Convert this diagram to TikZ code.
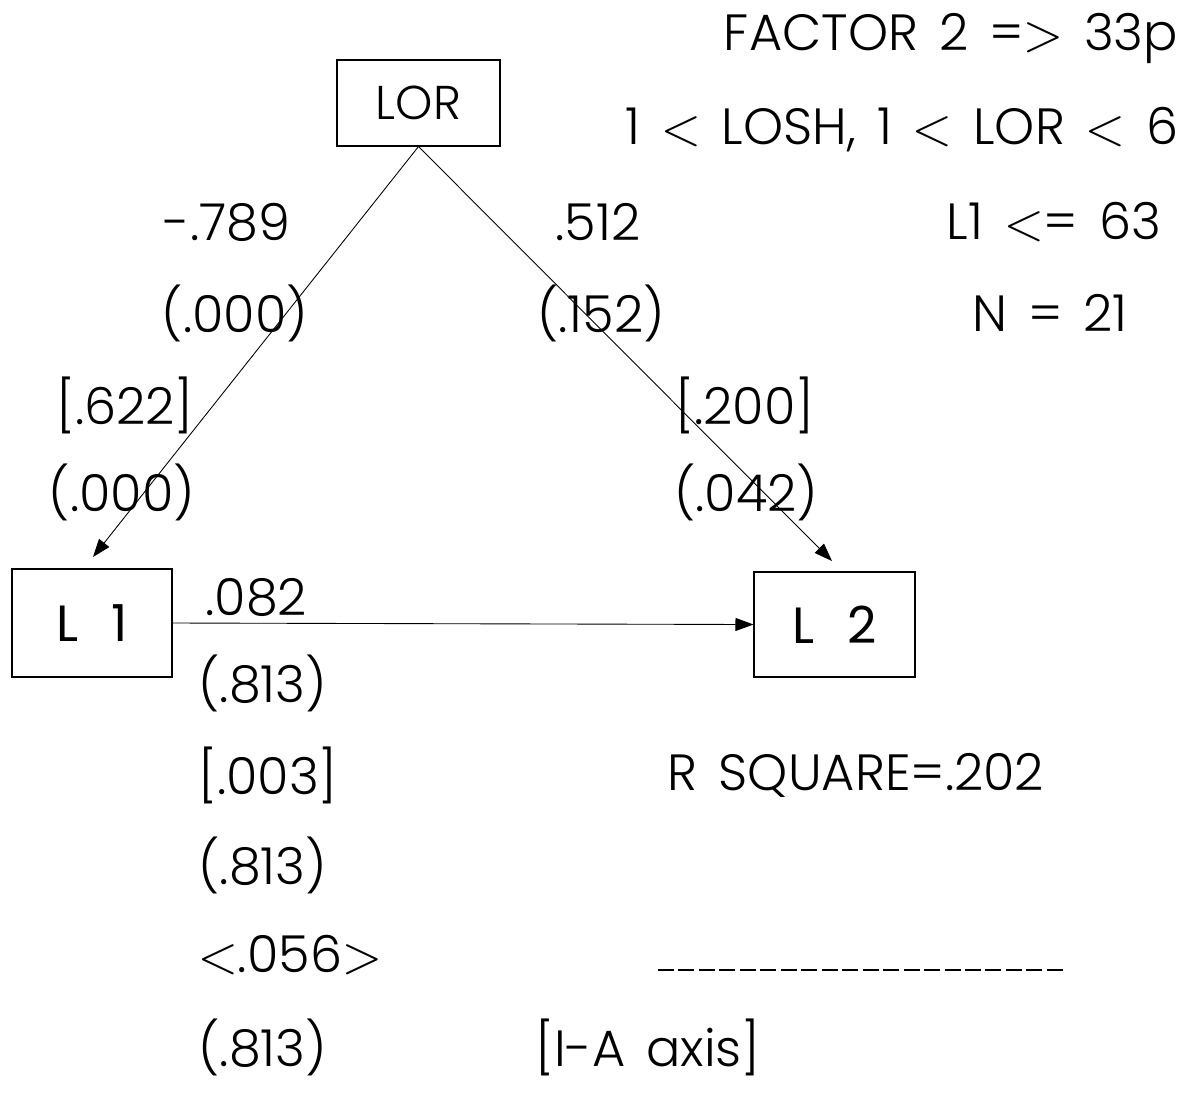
\documentclass[tikz,border=0pt]{standalone}
\usepackage{fontspec}
\usepackage{unicode-math}
\setmainfont{Poppins Light}[Ligatures=NoCommon, WordSpace=1.5]
\newfontfamily\boxfont{Poppins}
\usetikzlibrary{arrows.meta}
\newcommand\ltsym{\ensuremath{<}}
\newcommand\gtsym{\ensuremath{>}}
\begin{document}
\begin{tikzpicture}[x=0.02cm,y=-0.02cm,
  box/.style={draw, line width=0.6pt, inner sep=0pt, font=\boxfont\fontsize{29}{32}\selectfont},
  lab/.style={inner sep=0pt, font=\fontsize{29}{33}\selectfont},
  conn/.style={line width=0.5pt, -{Triangle[length=0.36cm,width=0.26cm]}}]
\useasboundingbox (0,0) rectangle (1189,1093);
\node[box, minimum width=163*0.02cm, minimum height=86*0.02cm, font=\fontsize{27}{30}\selectfont] (lor) at (418.5,103) {LOR};
\node[box, minimum width=160*0.02cm, minimum height=108*0.02cm] (l1) at (92,623) {L\hspace{0.65em}1};
\node[box, minimum width=161*0.02cm, minimum height=105*0.02cm] (l2) at (834.5,624.5) {L\hspace{0.65em}2};
\coordinate (t1) at (93,557);
\coordinate (t2) at (832,561);
\draw[conn] (lor.south) -- (t1);
\draw[conn] (lor.south) -- (t2);
\draw[conn] (l1.east) -- (l2.west);
% top right
\node[lab] (f1) at (951,38) {FACTOR 2 =\gtsym{} 33p};
\node[lab] (f2) at (902,130) {1 \ltsym{} LOSH, 1 \ltsym{} LOR \ltsym{} 6};
\node[lab] (f3) at (1054,222) {L1 \ltsym{}= 63};
\node[lab] (f4) at (1050,313) {N = 21};
% left path
\node[lab] (a1) at (227,222) {-.789};
\node[lab] (a2) at (235,313) {(.000)};
\node[lab] (a3) at (125,405) {[.622]};
\node[lab] (a4) at (122,492) {(.000)};
% right path
\node[lab] (b1) at (598,222) {.512};
\node[lab] (b2) at (601,313) {(.152)};
\node[lab] (b3) at (745,405) {[.200]};
\node[lab] (b4) at (746,492) {(.042)};
% horizontal
\node[lab, anchor=west] (c1) at (205,597) {.082};
\node[lab, anchor=west] (c2) at (198,683) {(.813)};
\node[lab, anchor=west] (c3) at (198,775) {[.003]};
\node[lab, anchor=west] (c4) at (198,865) {(.813)};
\node[lab, anchor=west] (c5) at (198,955) {\ltsym.056\gtsym};
\node[lab, anchor=west] (c6) at (198,1047) {(.813)};
\node[lab] (r1) at (856,775) {R SQUARE=.202};
\coordinate (d1) at (658,970);
\coordinate (d2) at (1063,970);
\draw[line width=0.7pt, dash pattern=on 0.32cm off 0.0894cm] (d1) -- (d2);
\node[lab] (r2) at (648,1047) {[I-A axis]};
\end{tikzpicture}
\end{document}
